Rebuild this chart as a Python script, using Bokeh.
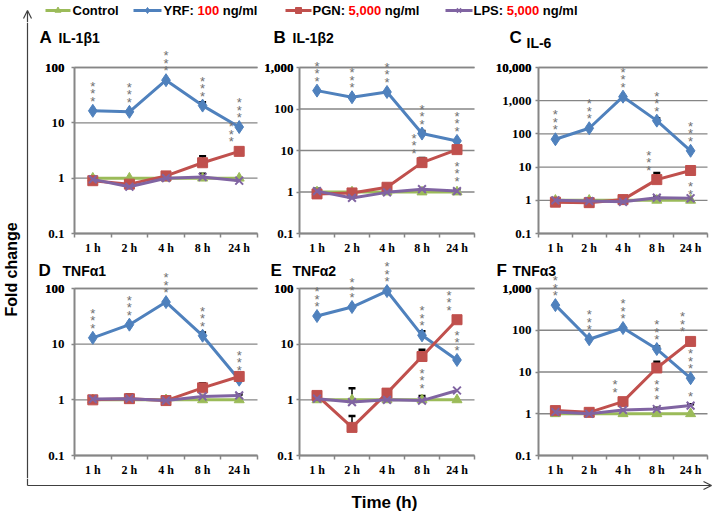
from math import pi
import numpy as np
from bokeh.plotting import figure
from bokeh.layouts import column, row
from bokeh.models import (Range1d, FixedTicker, NumeralTickFormatter, Whisker, TeeHead,
                          ColumnDataSource, Arrow, OpenHead, CustomJSTickFormatter,
                          Label, LabelSet)
from bokeh.core.properties import value
from bokeh.embed import file_html
from bokeh.resources import INLINE

# ---------------- data ----------------
times = ["1 h", "2 h", "4 h", "8 h", "24 h"]
panel_letters = ["A", "B", "C", "D", "E", "F"]
panel_genes = ["IL-1β1", "IL-1β2", "IL-6", "TNFα1", "TNFα2", "TNFα3"]
panel_ymax = [100, 1000, 10000, 100, 100, 1000]

series_names = ["Control", "YRF", "PGN", "LPS"]
series_doses = ["", "100", "5,000", "5,000"]
dose_unit = "ng/ml"

# A  IL-1b1
A_ctrl = [1, 1, 1, 1, 1]
A_yrf = [16.5, 15.8, 59, 20.5, 8.4]
A_pgn = [0.9, 0.78, 1.1, 1.9, 3.05]
A_lps = [0.95, 0.70, 1.0, 1.05, 0.9]
A_yrf_err = [0, 0, 0, 3, 0]
A_pgn_err = [0, 0, 0, 0.6, 0]
A_lps_err = [0, 0, 0, 0.15, 0]
A_yrf_sig = [3, 3, 3, 3, 3]
A_pgn_sig = [0, 0, 0, 0, 3]
A_lps_sig = [0, 0, 0, 0, 0]

# B  IL-1b2
B_ctrl = [1, 1, 1, 1, 1]
B_yrf = [277, 192, 257, 25.6, 17]
B_pgn = [0.9, 0.95, 1.3, 5.1, 10.5]
B_lps = [1.05, 0.72, 0.98, 1.17, 1.05]
B_yrf_err = [0, 0, 0, 4, 0]
B_pgn_err = [0.3, 0, 0, 1.5, 0]
B_lps_err = [0, 0, 0, 0, 0.1]
B_yrf_sig = [3, 3, 3, 3, 3]
B_pgn_sig = [0, 0, 0, 3, -3]
B_lps_sig = [0, 0, 0, 0, 0]

# C  IL-6
C_ctrl = [1, 1, 1, 1, 1]
C_yrf = [69, 148, 1320, 251, 31]
C_pgn = [0.88, 0.85, 1.05, 4.2, 7.9]
C_lps = [1.0, 0.95, 0.9, 1.2, 1.15]
C_yrf_err = [0, 0, 0, 45, 0]
C_pgn_err = [0, 0, 0, 2.4, 0]
C_lps_err = [0, 0.15, 0, 0.1, 0]
C_yrf_sig = [3, 3, 3, 3, 3]
C_pgn_sig = [0, 0, 0, 3, -3]
C_lps_sig = [0, 0, 0, 0, 0]

# D  TNFa1
D_ctrl = [1, 1, 1, 1, 1]
D_yrf = [13, 22.4, 57, 14.2, 2.3]
D_pgn = [1.0, 1.05, 0.97, 1.64, 2.63]
D_lps = [1.03, 1.05, 0.97, 1.15, 1.2]
D_yrf_err = [0, 0, 0, 2, 0]
D_pgn_err = [0, 0.2, 0, 0.35, 0]
D_lps_err = [0, 0, 0, 0, 0.05]
D_yrf_sig = [3, 3, 3, 3, 3]
D_pgn_sig = [0, 0, 0, 0, 0]
D_lps_sig = [0, 0, 0, 0, 0]

# E  TNFa2
E_ctrl = [1, 1, 1, 1, 1]
E_yrf = [32, 46.5, 90, 14.4, 5.2]
E_pgn = [1.2, 0.32, 1.32, 6.0, 27.5]
E_lps = [1.05, 0.91, 1.0, 0.97, 1.47]
E_yrf_err = [0, 0, 0, 2.6, 0]
E_pgn_err = [0, 0.19, 0, 1.9, 0]
E_lps_err = [0, 0.7, 0, 0.2, 0]
E_yrf_sig = [3, 3, 3, 3, 3]
E_pgn_sig = [0, 0, 0, -3, 3]
E_lps_sig = [0, 0, 0, 0, 0]

# F  TNFa3
F_ctrl = [1, 1, 1, 1, 1]
F_yrf = [400, 61, 113, 35.5, 7.1]
F_pgn = [1.19, 1.08, 1.95, 12.5, 54]
F_lps = [1.1, 1.0, 1.23, 1.3, 1.57]
F_yrf_err = [0, 0, 0, 5.5, 0]
F_pgn_err = [0, 0, 0, 5.2, 0]
F_lps_err = [0, 0, 0, 0.1, 0.12]
F_yrf_sig = [3, 3, 3, 3, 3]
F_pgn_sig = [0, 0, 2, -3, 3]
F_lps_sig = [0, 0, 0, 0, 1]

panel_data = [
    dict(ctrl=A_ctrl, yrf=A_yrf, pgn=A_pgn, lps=A_lps, yrf_err=A_yrf_err, pgn_err=A_pgn_err,
         lps_err=A_lps_err, yrf_sig=A_yrf_sig, pgn_sig=A_pgn_sig, lps_sig=A_lps_sig),
    dict(ctrl=B_ctrl, yrf=B_yrf, pgn=B_pgn, lps=B_lps, yrf_err=B_yrf_err, pgn_err=B_pgn_err,
         lps_err=B_lps_err, yrf_sig=B_yrf_sig, pgn_sig=B_pgn_sig, lps_sig=B_lps_sig),
    dict(ctrl=C_ctrl, yrf=C_yrf, pgn=C_pgn, lps=C_lps, yrf_err=C_yrf_err, pgn_err=C_pgn_err,
         lps_err=C_lps_err, yrf_sig=C_yrf_sig, pgn_sig=C_pgn_sig, lps_sig=C_lps_sig),
    dict(ctrl=D_ctrl, yrf=D_yrf, pgn=D_pgn, lps=D_lps, yrf_err=D_yrf_err, pgn_err=D_pgn_err,
         lps_err=D_lps_err, yrf_sig=D_yrf_sig, pgn_sig=D_pgn_sig, lps_sig=D_lps_sig),
    dict(ctrl=E_ctrl, yrf=E_yrf, pgn=E_pgn, lps=E_lps, yrf_err=E_yrf_err, pgn_err=E_pgn_err,
         lps_err=E_lps_err, yrf_sig=E_yrf_sig, pgn_sig=E_pgn_sig, lps_sig=E_lps_sig),
    dict(ctrl=F_ctrl, yrf=F_yrf, pgn=F_pgn, lps=F_lps, yrf_err=F_yrf_err, pgn_err=F_pgn_err,
         lps_err=F_lps_err, yrf_sig=F_yrf_sig, pgn_sig=F_pgn_sig, lps_sig=F_lps_sig),
]

# ---------------- styles / layout ----------------
GREEN, BLUE, RED, PURPLE = "#9bbb59", "#4f81bd", "#c0504d", "#8064a2"
GRAY = "#868686"
STAR = "#707070"
ARROW = "#404040"
SANS = "Liberation Sans"
SERIF = "Liberation Serif"
SERIES = [("ctrl", GREEN, "triangle", 10), ("yrf", BLUE, "diamond", 13),
          ("pgn", RED, "square", 10), ("lps", PURPLE, "x", 11)]

TOTAL_W = 712
LEFT_W = 34
LEG_H = 22
BOT_H = 34
AXIS_X = 27
COL_X0 = [34, 262, 490]
COL_W = [228, 228, 222]
COL_BL = [40, 37, 48]      # space left of each plot area inside its cell
COL_BR = [5, 16, 5]
COL_STANDOFF = [7, 3, 4]
ROW_Y0 = [22, 258]
ROW_H = [236, 220]
ROW_BT = [45, 30]          # space above each plot area inside its cell
ROW_BB = [25, 23]
TITLE_Y = [37, 270]        # page y of panel titles
LETTER_X = [39, 273, 509, 38, 270, 496]
GENE_X = [58, 292, 526, 62, 292, 512]
GENE_DY = [0, 0, 5, 0, 0, 0]
LEG_POS = [(45, 70, 72), (133, 161, 163), (285, 311, 312), (445, 472, 473)]

# Arial-bold-like advance widths (em) for legend text layout
_W = {'Y': .667, 'R': .722, 'F': .611, ':': .333, ' ': .278, '1': .556, '0': .556, '5': .556,
      ',': .278, 'P': .667, 'G': .778, 'N': .722, 'L': .611, 'S': .667, 'n': .611, 'g': .611,
      '/': .278, 'm': .889, 'l': .278, 'C': .722, 'o': .611, 't': .333, 'r': .389}


def text_w(s, size):
    return sum(_W.get(c, .6) for c in s) * size


def deco_fig(w, h):
    f = figure(width=w, height=h, x_range=Range1d(0, w), y_range=Range1d(0, h),
               toolbar_location=None, output_backend="svg", x_axis_location=None,
               y_axis_location=None, min_border=0)
    f.grid.visible = False
    f.outline_line_color = None
    f.background_fill_color = "white"
    f.border_fill_color = "white"
    return f


def make_panel(i):
    r, c = divmod(i, 3)
    w, h = COL_W[c], ROW_H[r]
    bl, br, bt, bb = COL_BL[c], COL_BR[c], ROW_BT[r], ROW_BB[r]
    d = panel_data[i]
    ymax = panel_ymax[i]
    n = len(times)
    xs = list(range(1, n + 1))
    ndec = int(round(np.log10(ymax / 0.1)))
    step = (w - bl - br) / n            # px per category
    ppd = (h - bt - bb) / ndec          # px per decade
    # the frame fills the whole cell; axes are pinned at the plot-area edges
    x_range = Range1d(0.5 - bl / step, n + 0.5 + br / step)
    y_range = Range1d(0.1 * 10 ** (-bb / ppd), ymax * 10 ** (bt / ppd))
    p = figure(width=w, height=h, y_axis_type="log", x_range=x_range, y_range=y_range,
               toolbar_location=None, output_backend="svg", min_border=0)
    p.outline_line_color = None
    p.background_fill_color = "white"
    p.border_fill_color = "white"
    p.grid.visible = False

    decades = [10.0 ** k for k in range(-1, ndec)]
    decades.append(float(ymax))
    # horizontal gridlines across the plot area
    p.segment(x0=[0.5] * len(decades), x1=[n + 0.5] * len(decades), y0=decades, y1=decades,
              line_color=GRAY, line_width=1.3)

    xa, ya = p.xaxis[0], p.yaxis[0]
    xa.fixed_location = 0.1
    ya.fixed_location = 0.5
    xa.bounds = (0.5, n + 0.5)
    ya.bounds = (0.1, ymax)
    ya.ticker = FixedTicker(ticks=decades)
    ya.formatter = NumeralTickFormatter(format="0,0.[0]")
    xa.ticker = FixedTicker(ticks=xs, minor_ticks=[k + 0.5 for k in range(n + 1)])
    xa.formatter = CustomJSTickFormatter(args=dict(labels=times),
                                         code="return labels[Math.round(tick) - 1] || '';")
    for ax in (xa, ya):
        ax.axis_line_color = GRAY
        ax.axis_line_width = 2
        ax.major_label_text_font = SERIF
        ax.major_label_text_font_style = "bold"
        ax.major_label_text_color = "black"
    xa.major_label_text_font_size = "12px"
    ya.major_label_text_font_size = "13px"
    xa.major_tick_line_color = None
    xa.major_tick_out = 4
    xa.major_label_standoff = 3
    xa.minor_tick_line_color = GRAY
    xa.minor_tick_line_width = 1.5
    xa.minor_tick_out = 4
    xa.minor_tick_in = 0
    ya.major_tick_line_color = GRAY
    ya.major_tick_line_width = 1.5
    ya.major_tick_out = 3
    ya.major_tick_in = 0
    ya.minor_tick_line_color = None
    ya.major_label_standoff = COL_STANDOFF[c]

    for key, color, marker, size in SERIES:
        ys = d[key]
        p.line(xs, ys, line_color=color, line_width=3)
        p.scatter(xs, ys, marker=marker, size=size, fill_color=color, line_color=color,
                  line_width=2 if marker == "x" else 1)

    for key in ("yrf", "pgn", "lps"):
        ys, err = d[key], d[key + "_err"]
        pts = [(x, y, y + e) for x, y, e in zip(xs, ys, err) if e > 0]
        if pts:
            src = ColumnDataSource(dict(base=[q[0] for q in pts], lower=[q[1] for q in pts],
                                        upper=[q[2] for q in pts]))
            p.add_layout(Whisker(source=src, base="base", lower="lower", upper="upper",
                                 line_color="black", line_width=1.5, lower_head=None,
                                 upper_head=TeeHead(size=7, line_color="black", line_width=2.5)))

    # significance asterisks, stacked vertically above / below the point
    for key in ("yrf", "pgn", "lps"):
        ys, sig = d[key], d[key + "_sig"]
        above = [(x, y, s) for x, y, s in zip(xs, ys, sig) if s > 0]
        below = [(x, y, -s) for x, y, s in zip(xs, ys, sig) if s < 0]
        for pts, base, yoff in ((above, "bottom", 2), (below, "top", -9)):
            if not pts:
                continue
            src = ColumnDataSource(dict(x=[q[0] for q in pts], y=[q[1] for q in pts],
                                        t=["\n".join("*" * q[2]) for q in pts]))
            xoff = -8 if (key == "pgn" and base == "bottom") else 0
            p.add_layout(LabelSet(x="x", y="y", text="t", source=src,
                                  text_align="center", text_baseline=base,
                                  x_offset=xoff, y_offset=yoff, text_color=STAR,
                                  text_line_height=0.5,
                                  text_font_size="13px", text_font=value(SANS)))

    # panel title (letter + gene), anchored at the plot area's top-left corner
    frame_left = COL_X0[c] + bl
    frame_top = ROW_Y0[r] + bt
    p.add_layout(Label(x=0.5, y=ymax, x_offset=LETTER_X[i] - frame_left,
                       y_offset=frame_top - TITLE_Y[r], text=panel_letters[i],
                       text_font=SANS, text_font_style="bold", text_font_size="17px",
                       text_baseline="middle", text_align="left", text_color="black"))
    p.add_layout(Label(x=0.5, y=ymax, x_offset=GENE_X[i] - frame_left,
                       y_offset=frame_top - TITLE_Y[r] - GENE_DY[i], text=panel_genes[i],
                       text_font=SANS, text_font_style="bold", text_font_size="14px",
                       text_baseline="middle", text_align="left", text_color="black"))
    return p


panels = [make_panel(i) for i in range(6)]

# legend strip (with top of the vertical axis arrow)
leg = deco_fig(TOTAL_W, LEG_H)
leg.add_layout(Arrow(end=OpenHead(size=8, line_color=ARROW, line_width=1.2),
                     x_start=AXIS_X, y_start=0, x_end=AXIS_X, y_end=12,
                     line_color=ARROW, line_width=1.2))
LY = 12
for k, (name, dose) in enumerate(zip(series_names, series_doses)):
    key, color, marker, size = SERIES[k]
    x0, x1, xt = LEG_POS[k]
    leg.segment(x0=[x0], y0=[LY], x1=[x1], y1=[LY], line_color=color, line_width=3)
    leg.scatter([(x0 + x1) / 2], [LY], marker=marker, size=6, fill_color=color, line_color=color,
                line_width=1.5 if marker == "x" else 1)
    if dose:
        parts = [(name + ":", "black", name + ": "), (dose, "#ff0000", dose + " "),
                 (dose_unit, "black", dose_unit)]
    else:
        parts = [(name, "black", name)]
    px = xt
    for txt, col, adv in parts:
        leg.text(x=[px], y=[LY], text=[txt], text_font=value(SANS), text_font_style="bold",
                 text_font_size="13px", text_baseline="middle", text_align="left", text_color=col)
        px += text_w(adv, 13)

# left strip with y label and vertical axis line
mid_h = sum(ROW_H)
left = deco_fig(LEFT_W, mid_h)
left.segment(x0=[AXIS_X], y0=[0], x1=[AXIS_X], y1=[mid_h], line_color=ARROW, line_width=1.2)
left.text(x=[11], y=[ROW_Y0[0] + mid_h - 269], text=["Fold change"], angle=pi / 2,
          text_font=value(SANS), text_font_style="bold", text_font_size="16px",
          text_align="center", text_baseline="middle", text_color="black")

# bottom strip with x label and horizontal axis arrow
bot = deco_fig(TOTAL_W, BOT_H)
ARROW_Y = BOT_H - 7
bot.segment(x0=[AXIS_X], y0=[ARROW_Y], x1=[AXIS_X], y1=[BOT_H], line_color=ARROW, line_width=1.2)
bot.add_layout(Arrow(end=OpenHead(size=8, line_color=ARROW, line_width=1.2),
                     x_start=AXIS_X, y_start=ARROW_Y, x_end=TOTAL_W - 1, y_end=ARROW_Y,
                     line_color=ARROW, line_width=1.2))
bot.text(x=[384], y=[10], text=["Time (h)"], text_font=value(SANS), text_font_style="bold",
         text_font_size="17px", text_align="center", text_baseline="middle", text_color="black")

grid = column(row(*panels[:3]), row(*panels[3:]))
layout = column(leg, row(left, grid), bot)

open("out.html", "w").write(file_html(layout, INLINE))
